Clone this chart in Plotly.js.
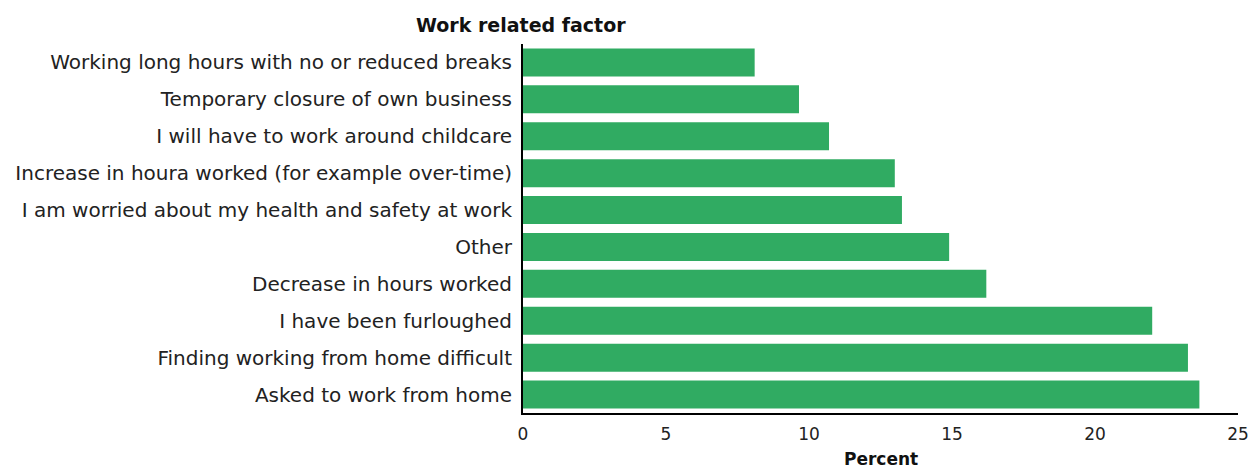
<!DOCTYPE html>
<html><head><meta charset="utf-8">
<script src="https://cdn.plot.ly/plotly-3.0.1.min.js"></script>
<style>html,body{margin:0;padding:0;background:#fff;}#chart{width:1251px;height:468px;}</style>
</head><body><div id="chart"></div>
<script>
const categories = [
  "Working long hours with no or reduced breaks",
  "Temporary closure of own business",
  "I will have to work around childcare",
  "Increase in houra worked (for example over-time)",
  "I am worried about my health and safety at work",
  "Other",
  "Decrease in hours worked",
  "I have been furloughed",
  "Finding working from home difficult",
  "Asked to work from home"
];
const values = [8.1, 9.65, 10.7, 13.0, 13.25, 14.9, 16.2, 22.0, 23.25, 23.65];
const xTicks = [0, 5, 10, 15, 20, 25];

const font = "'DejaVu Sans', sans-serif";
Plotly.newPlot('chart', [{
  type: 'bar', orientation: 'h',
  x: values, y: categories,
  marker: {color: '#30ab62'},
  hoverinfo: 'x+y'
}], {
  width: 1251, height: 468,
  margin: {l: 523, r: 13, t: 44, b: 55},
  bargap: 0.24,
  paper_bgcolor: '#fff', plot_bgcolor: '#fff',
  font: {family: font, color: '#222', size: 18},
  title: {text: '<b>Work related factor</b>', font: {family: font, size: 19, color: '#111'},
          xref: 'container', yref: 'container', x: 416/1251, xanchor: 'left', y: 1 - 25/468, yanchor: 'middle'},
  xaxis: {
    range: [0, 25], tickvals: xTicks, ticktext: xTicks.map(String),
    showgrid: false, zeroline: false, showline: true, linecolor: '#000', linewidth: 2,
    ticks: '', ticklabelstandoff: 5, tickfont: {size: 17, color: '#222'},
    fixedrange: true
  },
  yaxis: {
    categoryorder: 'array', categoryarray: categories, autorange: 'reversed',
    showgrid: false, zeroline: false, showline: true, linecolor: '#000', linewidth: 2,
    ticks: '', ticklabelstandoff: 5, tickfont: {size: 20, color: '#222'},
    fixedrange: true
  },
  annotations: [{
    text: '<b>Percent</b>', xref: 'paper', yref: 'paper', x: 0.5, y: 0,
    xanchor: 'center', yanchor: 'middle', yshift: -46, showarrow: false,
    font: {size: 17, color: '#111'}
  }],
  showlegend: false
}, {displayModeBar: false, staticPlot: true});
</script></body></html>
